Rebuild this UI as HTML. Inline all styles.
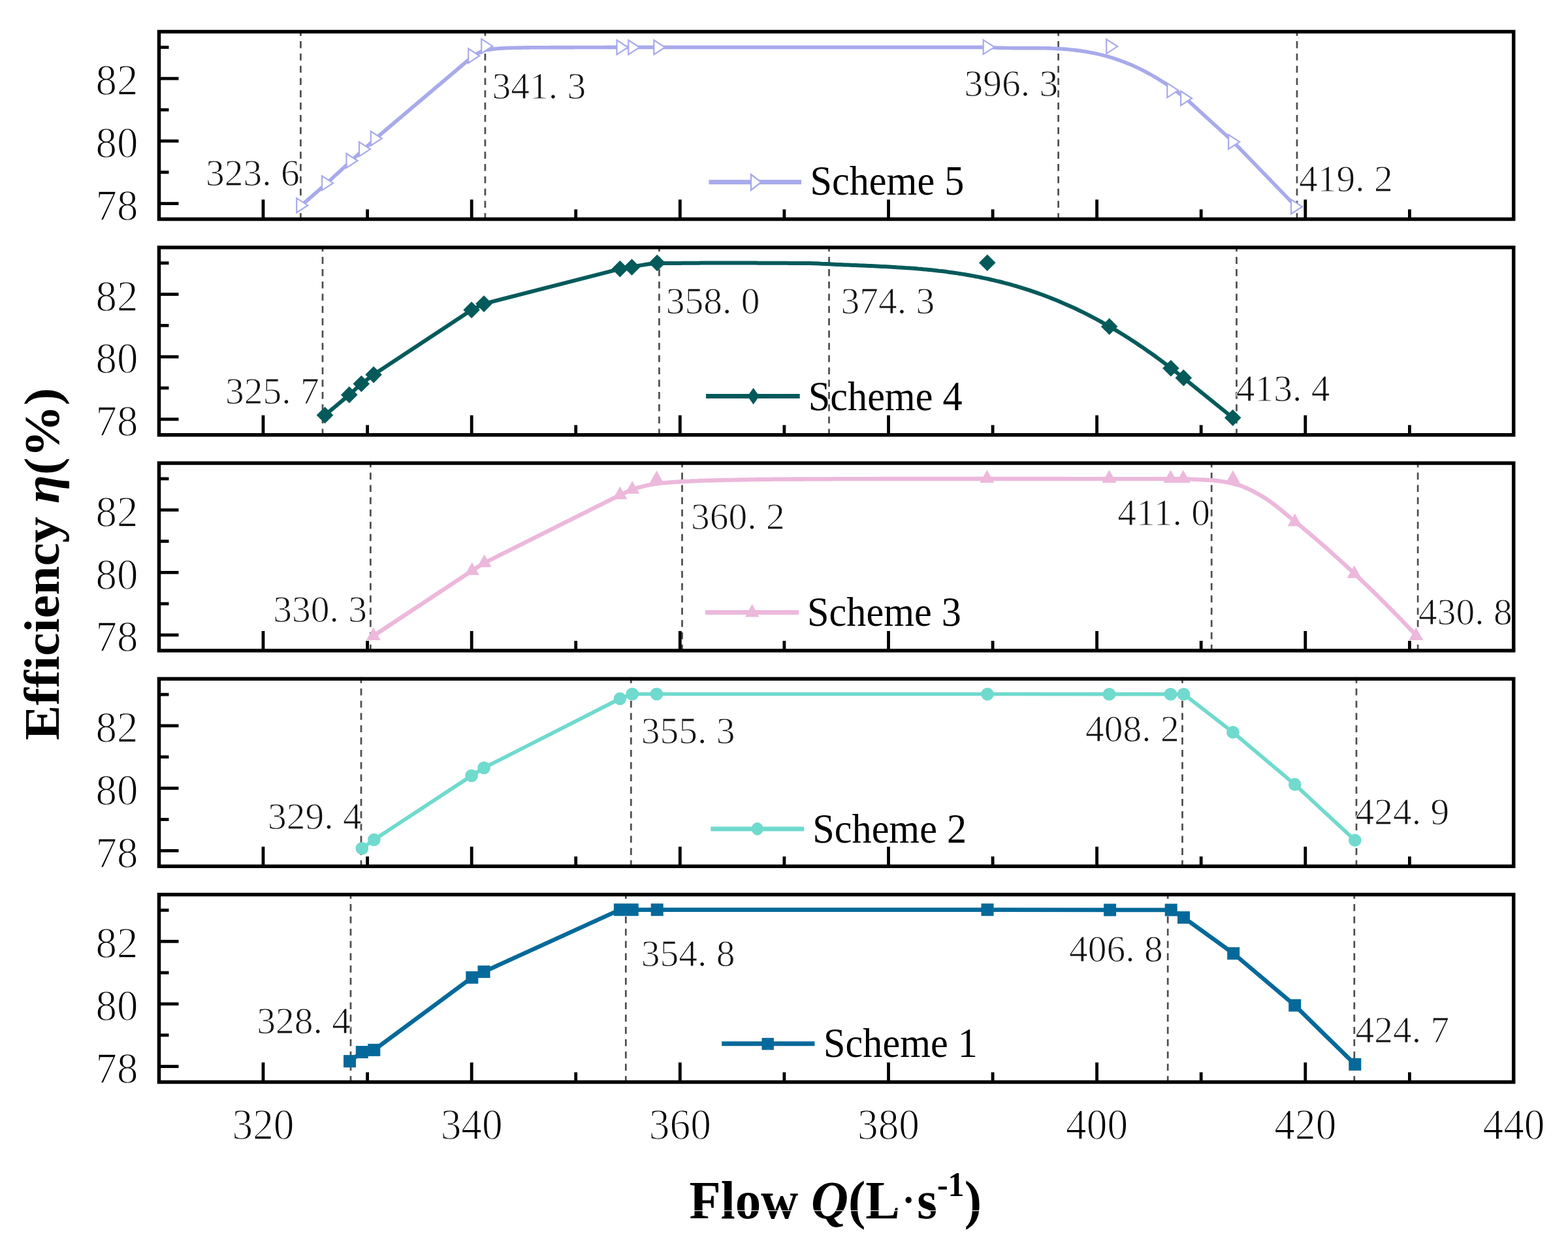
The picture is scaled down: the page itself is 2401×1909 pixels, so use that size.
<!DOCTYPE html>
<html><head><meta charset="utf-8"><title>Efficiency vs Flow</title>
<style>html,body{margin:0;padding:0;background:#fff;}svg{display:block;}
.t{font-family:"Liberation Serif","Times New Roman",serif;}
</style></head><body>
<svg width="2401" height="1909" viewBox="0 0 2401 1909">
<rect width="2401" height="1909" fill="#fff"/>
<g stroke="#4d4d4d" stroke-width="2.7" stroke-dasharray="10.6 8.2" stroke-dashoffset="1.7" fill="none">
<line x1="460.4" y1="46" x2="460.4" y2="335.5"/>
<line x1="742.9" y1="46" x2="742.9" y2="335.5"/>
<line x1="1620.6" y1="46" x2="1620.6" y2="335.5"/>
<line x1="1986" y1="46" x2="1986" y2="335.5"/>
<line x1="494" y1="376.2" x2="494" y2="665.7"/>
<line x1="1009.4" y1="376.2" x2="1009.4" y2="665.7"/>
<line x1="1269.5" y1="376.2" x2="1269.5" y2="665.7"/>
<line x1="1893.5" y1="376.2" x2="1893.5" y2="665.7"/>
<line x1="567.4" y1="706.5" x2="567.4" y2="996"/>
<line x1="1044.5" y1="706.5" x2="1044.5" y2="996"/>
<line x1="1855.2" y1="706.5" x2="1855.2" y2="996"/>
<line x1="2171.1" y1="706.5" x2="2171.1" y2="996"/>
<line x1="553" y1="1036.8" x2="553" y2="1326.2"/>
<line x1="966.3" y1="1036.8" x2="966.3" y2="1326.2"/>
<line x1="1810.5" y1="1036.8" x2="1810.5" y2="1326.2"/>
<line x1="2077" y1="1036.8" x2="2077" y2="1326.2"/>
<line x1="537" y1="1367" x2="537" y2="1656.5"/>
<line x1="958.3" y1="1367" x2="958.3" y2="1656.5"/>
<line x1="1788.2" y1="1367" x2="1788.2" y2="1656.5"/>
<line x1="2073.8" y1="1367" x2="2073.8" y2="1656.5"/>
</g>
<path d="M461.7,314.4 L500.6,280.3 L538,246 L557.5,228.3 L575.3,212 L724.7,85.5 L728.7,83.2 L732.7,81 L736.7,79.1 L740.7,77.6 L744.7,76.6 L748.7,75.9 L752.7,75.4 L756.7,74.9 L760.7,74.5 L764.7,74.1 L768.7,73.9 L772.7,73.7 L776.7,73.5 L780.7,73.4 L784.7,73.3 L788.7,73.2 L792.7,73.1 L796.7,73.1 L800.7,73 L804.7,72.9 L808.7,72.9 L812.7,72.8 L816.7,72.8 L820.7,72.8 L824.7,72.7 L828.7,72.7 L832.7,72.7 L836.7,72.7 L840.7,72.7 L844.7,72.6 L848.7,72.6 L852.7,72.6 L856.7,72.6 L860.7,72.6 L864.7,72.6 L868.7,72.6 L872.7,72.6 L876.7,72.6 L880.7,72.5 L884.7,72.5 L888.7,72.5 L892.7,72.5 L896.7,72.5 L900.7,72.5 L904.7,72.5 L908.7,72.5 L912.7,72.5 L916.7,72.5 L920.7,72.5 L924.7,72.5 L928.7,72.4 L932.7,72.4 L936.7,72.4 L940.7,72.4 L944.7,72.4 L948.7,72.4 L952.7,72.4 L956.7,72.4 L960.7,72.4 L964.7,72.4 L968.7,72.4 L972.7,72.4 L976.7,72.4 L980.7,72.4 L984.7,72.4 L988.7,72.4 L992.7,72.4 L996.7,72.4 L1000.7,72.4 L1004.7,72.4 L1008.7,72.4 L1012.7,72.4 L1016.7,72.4 L1020.7,72.4 L1024.7,72.4 L1028.7,72.4 L1032.7,72.4 L1036.7,72.4 L1040.7,72.4 L1044.7,72.4 L1048.7,72.4 L1052.7,72.4 L1056.7,72.4 L1060.7,72.4 L1064.7,72.4 L1068.7,72.4 L1072.7,72.4 L1076.7,72.4 L1080.7,72.4 L1084.7,72.4 L1088.7,72.4 L1092.7,72.4 L1096.7,72.4 L1100.7,72.4 L1104.7,72.4 L1108.7,72.4 L1112.7,72.4 L1116.7,72.4 L1120.7,72.4 L1124.7,72.4 L1128.7,72.4 L1132.7,72.4 L1136.7,72.4 L1140.7,72.4 L1144.7,72.4 L1148.7,72.4 L1152.7,72.4 L1156.7,72.4 L1160.7,72.4 L1164.7,72.4 L1168.7,72.4 L1172.7,72.4 L1176.7,72.4 L1180.7,72.4 L1184.7,72.4 L1188.7,72.4 L1192.7,72.4 L1196.7,72.4 L1200.7,72.4 L1204.7,72.4 L1208.7,72.4 L1212.7,72.4 L1216.7,72.4 L1220.7,72.4 L1224.7,72.4 L1228.7,72.4 L1232.7,72.4 L1236.7,72.4 L1240.7,72.4 L1244.7,72.4 L1248.7,72.4 L1252.7,72.4 L1256.7,72.4 L1260.7,72.4 L1264.7,72.4 L1268.7,72.4 L1272.7,72.4 L1276.7,72.4 L1280.7,72.4 L1284.7,72.4 L1288.7,72.4 L1292.7,72.4 L1296.7,72.4 L1300.7,72.4 L1304.7,72.4 L1308.7,72.4 L1312.7,72.4 L1316.7,72.4 L1320.7,72.4 L1324.7,72.4 L1328.7,72.4 L1332.7,72.4 L1336.7,72.4 L1340.7,72.4 L1344.7,72.4 L1348.7,72.4 L1352.7,72.4 L1356.7,72.4 L1360.7,72.4 L1364.7,72.4 L1368.7,72.4 L1372.7,72.4 L1376.7,72.4 L1380.7,72.4 L1384.7,72.4 L1388.7,72.4 L1392.7,72.4 L1396.7,72.4 L1400.7,72.4 L1404.7,72.4 L1408.7,72.4 L1412.7,72.4 L1416.7,72.4 L1420.7,72.4 L1424.7,72.4 L1428.7,72.4 L1432.7,72.4 L1436.7,72.4 L1440.7,72.4 L1444.7,72.4 L1448.7,72.4 L1452.7,72.4 L1456.7,72.4 L1460.7,72.4 L1464.7,72.4 L1468.7,72.4 L1472.7,72.4 L1476.7,72.4 L1480.7,72.4 L1484.7,72.4 L1488.7,72.4 L1492.7,72.4 L1496.7,72.4 L1500.7,72.4 L1504.7,72.4 L1508.7,72.4 L1512.7,72.4 L1513,72.4 L1517,72.6 L1521,72.8 L1525,73 L1529,73.2 L1533,73.3 L1537,73.4 L1541,73.5 L1545,73.5 L1549,73.5 L1553,73.6 L1557,73.6 L1561,73.6 L1565,73.6 L1569,73.6 L1573,73.6 L1577,73.6 L1581,73.6 L1585,73.6 L1589,73.6 L1593,73.7 L1597,73.7 L1601,73.8 L1605,73.9 L1609,74 L1613,74.2 L1617,74.4 L1621,74.6 L1625,74.8 L1629,75.1 L1633,75.4 L1637,75.8 L1641,76.2 L1645,76.6 L1649,77.1 L1653,77.6 L1657,78.2 L1661,78.8 L1665,79.4 L1669,80.2 L1673,80.9 L1677,81.8 L1681,82.6 L1685,83.6 L1689,84.6 L1693,85.6 L1697,86.8 L1701,87.9 L1705,89.2 L1709,90.5 L1713,91.9 L1717,93.3 L1721,94.8 L1725,96.4 L1729,98 L1733,99.7 L1737,101.5 L1741,103.3 L1745,105.2 L1749,107.2 L1753,109.3 L1757,111.4 L1761,113.6 L1765,115.9 L1769,118.2 L1773,120.6 L1777,123.1 L1781,125.6 L1785,128.2 L1789,130.9 L1793,133.7 L1797,136.5 L1801,139.4 L1805,142.4 L1809,145.4 L1813,148.5 L1815.6,150.6 L1888.6,217.2 L1984.5,316.4" fill="none" stroke="#a8aaec" stroke-width="5.6" stroke-linejoin="round" stroke-linecap="round"/>
<path d="M497.5,635.6 L534.8,604.4 L553.3,587.5 L572.1,573.6 L722.1,474.5 L741,465.1 L949.4,411.6 L953.4,410.9 L957.4,410.2 L961.4,409.5 L965.4,408.8 L969.4,408.2 L973.4,407.5 L977.4,406.8 L981.4,406.1 L985.4,405.5 L989.4,404.8 L993.4,404.3 L997.4,403.8 L1001.4,403.5 L1005.4,403.3 L1009.4,403.2 L1013.4,403.2 L1017.4,403.1 L1021.4,403.1 L1025.4,403 L1029.4,403 L1033.4,402.9 L1037.4,402.9 L1041.4,402.9 L1045.4,402.8 L1049.4,402.8 L1053.4,402.8 L1057.4,402.7 L1061.4,402.7 L1065.4,402.7 L1069.4,402.7 L1073.4,402.6 L1077.4,402.6 L1081.4,402.6 L1085.4,402.6 L1089.4,402.6 L1093.4,402.6 L1097.4,402.6 L1101.4,402.6 L1105.4,402.6 L1109.4,402.6 L1113.4,402.6 L1117.4,402.6 L1121.4,402.6 L1125.4,402.6 L1129.4,402.6 L1133.4,402.6 L1137.4,402.6 L1141.4,402.6 L1145.4,402.6 L1149.4,402.6 L1153.4,402.6 L1157.4,402.6 L1161.4,402.7 L1165.4,402.7 L1169.4,402.7 L1173.4,402.7 L1177.4,402.7 L1181.4,402.7 L1185.4,402.7 L1189.4,402.7 L1193.4,402.8 L1197.4,402.8 L1201.4,402.8 L1205.4,402.8 L1209.4,402.9 L1213.4,402.9 L1217.4,402.9 L1221.4,402.9 L1225.4,403 L1229.4,403 L1233.4,403 L1237.4,403.1 L1241.4,403.1 L1245.4,403.2 L1249.4,403.2 L1250,403.2 L1254,403.4 L1258,403.7 L1262,403.9 L1266,404.1 L1270,404.3 L1274,404.5 L1278,404.7 L1282,404.9 L1286,405.1 L1290,405.3 L1294,405.5 L1298,405.6 L1302,405.8 L1306,406 L1310,406.1 L1314,406.3 L1318,406.5 L1322,406.6 L1326,406.8 L1330,407 L1334,407.1 L1338,407.3 L1342,407.5 L1346,407.7 L1350,407.9 L1354,408.1 L1358,408.3 L1362,408.5 L1366,408.7 L1370,408.9 L1374,409.2 L1378,409.4 L1382,409.7 L1386,410 L1390,410.2 L1394,410.5 L1398,410.8 L1402,411.1 L1406,411.5 L1410,411.8 L1414,412.2 L1418,412.5 L1422,412.9 L1426,413.3 L1430,413.8 L1434,414.2 L1438,414.7 L1442,415.1 L1446,415.6 L1450,416.1 L1454,416.7 L1458,417.2 L1462,417.8 L1466,418.4 L1470,419 L1474,419.6 L1478,420.3 L1482,421 L1486,421.7 L1490,422.4 L1494,423.2 L1498,423.9 L1502,424.7 L1506,425.6 L1510,426.4 L1514,427.3 L1518,428.2 L1522,429.1 L1526,430.1 L1530,431 L1534,432 L1538,433.1 L1542,434.1 L1546,435.2 L1550,436.3 L1554,437.5 L1558,438.6 L1562,439.8 L1566,441.1 L1570,442.3 L1574,443.6 L1578,444.9 L1582,446.3 L1586,447.7 L1590,449.1 L1594,450.5 L1598,452 L1602,453.5 L1606,455 L1610,456.6 L1614,458.2 L1618,459.8 L1622,461.5 L1626,463.2 L1630,464.9 L1634,466.7 L1638,468.5 L1642,470.3 L1646,472.1 L1650,474 L1654,476 L1658,477.9 L1662,479.9 L1666,481.9 L1670,484 L1674,486.1 L1678,488.2 L1682,490.3 L1686,492.5 L1690,494.8 L1694,497 L1698,499.3 L1702,501.6 L1706,504 L1710,506.4 L1714,508.8 L1718,511.2 L1722,513.7 L1726,516.3 L1730,518.8 L1734,521.4 L1738,524 L1742,526.7 L1746,529.4 L1750,532.1 L1754,534.9 L1758,537.7 L1762,540.5 L1766,543.3 L1770,546.2 L1774,549.1 L1778,552.1 L1782,555.1 L1786,558.1 L1790,561.1 L1794,564.2 L1798,567.3 L1802,570.5 L1806,573.7 L1810,576.9 L1812.3,578.7 L1887.7,639.5" fill="none" stroke="#045a5b" stroke-width="6" stroke-linejoin="round" stroke-linecap="round"/>
<path d="M571.8,973.5 L722.8,873.7 L741.6,861.7 L949.4,757.8 L968.2,749.2 L972.2,748 L976.2,746.8 L980.2,745.7 L984.2,744.7 L988.2,743.7 L992.2,742.8 L996.2,742 L1000.2,741.3 L1004.2,740.7 L1008.2,740.2 L1012.2,739.7 L1016.2,739.3 L1020.2,738.9 L1024.2,738.6 L1028.2,738.3 L1032.2,738 L1036.2,737.7 L1040.2,737.5 L1044.2,737.2 L1048.2,737 L1052.2,736.8 L1056.2,736.7 L1060.2,736.5 L1064.2,736.3 L1068.2,736.2 L1072.2,736 L1076.2,735.9 L1080.2,735.7 L1084.2,735.6 L1088.2,735.5 L1092.2,735.4 L1096.2,735.3 L1100.2,735.2 L1104.2,735.1 L1108.2,735 L1112.2,734.9 L1116.2,734.8 L1120.2,734.8 L1124.2,734.7 L1128.2,734.6 L1132.2,734.5 L1136.2,734.4 L1140.2,734.4 L1144.2,734.3 L1148.2,734.2 L1152.2,734.1 L1156.2,734.1 L1160.2,734 L1164.2,734 L1168.2,733.9 L1172.2,733.9 L1176.2,733.8 L1180.2,733.8 L1184.2,733.7 L1188.2,733.7 L1192.2,733.7 L1196.2,733.6 L1200.2,733.6 L1204.2,733.6 L1208.2,733.6 L1212.2,733.5 L1216.2,733.5 L1220.2,733.5 L1224.2,733.5 L1228.2,733.5 L1232.2,733.4 L1236.2,733.4 L1240.2,733.4 L1244.2,733.4 L1248.2,733.4 L1252.2,733.3 L1256.2,733.3 L1260.2,733.3 L1264.2,733.3 L1268.2,733.3 L1272.2,733.3 L1276.2,733.2 L1280.2,733.2 L1284.2,733.2 L1288.2,733.2 L1292.2,733.2 L1296.2,733.2 L1300.2,733.2 L1304.2,733.2 L1308.2,733.1 L1312.2,733.1 L1316.2,733.1 L1320.2,733.1 L1324.2,733.1 L1328.2,733.1 L1332.2,733.1 L1336.2,733.1 L1340.2,733.1 L1344.2,733.1 L1348.2,733 L1352.2,733 L1356.2,733 L1360.2,733 L1364.2,733 L1368.2,733 L1372.2,733 L1376.2,733 L1380.2,733 L1384.2,733 L1388.2,733 L1392.2,733 L1396.2,733 L1400.2,733 L1404.2,733 L1408.2,733 L1412.2,733 L1416.2,733 L1420.2,733 L1424.2,733 L1428.2,733 L1432.2,733 L1436.2,733 L1440.2,733 L1444.2,733 L1448.2,733 L1452.2,733 L1456.2,733 L1460.2,733 L1464.2,733 L1468.2,733 L1472.2,733 L1476.2,733 L1480.2,733 L1484.2,733 L1488.2,733 L1492.2,733 L1496.2,733 L1500.2,733 L1504.2,733 L1508.2,733 L1512.2,733 L1516.2,733 L1520.2,733 L1524.2,733 L1528.2,733 L1532.2,733 L1536.2,733 L1540.2,733 L1544.2,733 L1548.2,733 L1552.2,733 L1556.2,733 L1560.2,733 L1564.2,733 L1568.2,733 L1572.2,733 L1576.2,733 L1580.2,733 L1584.2,733 L1588.2,733 L1592.2,733 L1596.2,733 L1600.2,733 L1604.2,733 L1608.2,733 L1612.2,733 L1616.2,733 L1620.2,733 L1624.2,733 L1628.2,733 L1632.2,733.1 L1636.2,733.1 L1640.2,733.1 L1644.2,733.1 L1648.2,733.1 L1652.2,733.1 L1656.2,733.1 L1660.2,733.1 L1664.2,733.1 L1668.2,733.1 L1672.2,733.1 L1676.2,733.1 L1680.2,733.1 L1684.2,733.1 L1688.2,733.1 L1692.2,733.1 L1696.2,733.1 L1700.2,733.1 L1704.2,733.1 L1708.2,733.1 L1712.2,733.1 L1716.2,733.1 L1720.2,733.1 L1724.2,733.1 L1728.2,733.1 L1732.2,733.1 L1736.2,733.1 L1740.2,733.1 L1744.2,733.1 L1748.2,733.1 L1752.2,733.1 L1756.2,733.1 L1760.2,733.2 L1764.2,733.2 L1768.2,733.2 L1772.2,733.2 L1776.2,733.2 L1780.2,733.2 L1784.2,733.2 L1788.2,733.2 L1792.2,733.2 L1796.2,733.2 L1800.2,733.2 L1804.2,733.2 L1808.2,733.3 L1812.2,733.3 L1816.2,733.4 L1820.2,733.5 L1824.2,733.6 L1828.2,733.8 L1832.2,734 L1836.2,734.1 L1840.2,734.3 L1844.2,734.5 L1848.2,734.8 L1852.2,735 L1856.2,735.2 L1860.2,735.6 L1864.2,736 L1868.2,736.5 L1872.2,737.1 L1876.2,737.8 L1880.2,738.6 L1884.2,739.5 L1888.2,740.4 L1892.2,741.4 L1896.2,742.4 L1900.2,743.7 L1904.2,745.3 L1908.2,747 L1912.2,748.8 L1916.2,750.8 L1920.2,752.9 L1924.2,755.1 L1928.2,757.3 L1932.2,759.5 L1936.2,762 L1940.2,764.6 L1944.2,767.3 L1948.2,770.3 L1952.2,773.3 L1956.2,776.4 L1960.2,779.6 L1964.2,782.9 L1968.2,786.2 L1972.2,789.5 L1976.2,792.9 L1980.2,796.1 L1984.2,799.4 L1988.2,802.7 L1992.2,805.9 L1996.2,809.2 L2000.2,812.6 L2004.2,815.9 L2008.2,819.3 L2012.2,822.7 L2016.2,826.2 L2020.2,829.6 L2024.2,833.1 L2028.2,836.6 L2032.2,840.2 L2036.2,843.7 L2040.2,847.3 L2044.2,850.9 L2048.2,854.5 L2052.2,858.1 L2056.2,861.8 L2060.2,865.4 L2064.2,869.1 L2068.2,872.8 L2072.2,876.6 L2076.2,880.3 L2080.2,884.1 L2084.2,887.8 L2088.2,891.7 L2092.2,895.5 L2096.2,899.3 L2100.2,903.2 L2104.2,907.1 L2108.2,911 L2112.2,915 L2116.2,918.9 L2120.2,922.9 L2124.2,926.9 L2128.2,931 L2132.2,935 L2136.2,939.1 L2140.2,943.2 L2144.2,947.3 L2148.2,951.4 L2152.2,955.6 L2156.2,959.8 L2160.2,964 L2164.2,968.2 L2168.2,972.4 L2169.2,973.5" fill="none" stroke="#ecb8dc" stroke-width="6.3" stroke-linejoin="round" stroke-linecap="round"/>
<path d="M554.3,1298.8 L572.8,1285.5 L722.1,1187.5 L741,1175.5 L949.4,1069.6 L968.2,1062.5 L1005.5,1062.5 L1512,1062.5 L1698.5,1062.6 L1792.5,1062.6 L1812.5,1062.6 L1887.9,1121 L1982.7,1200.9 L2074.8,1286.4" fill="none" stroke="#6fdacd" stroke-width="5.7" stroke-linejoin="round" stroke-linecap="round"/>
<path d="M535.5,1624.6 L554.3,1610.6 L572.8,1607.4 L722.8,1496.4 L741,1487.6 L949.4,1392.7 L968.2,1392.7 L1006.2,1392.7 L1512,1392.7 L1699.6,1393 L1793.2,1393 L1812.5,1404.6 L1888.7,1459.6 L1982.7,1539.1 L2074.8,1629.4" fill="none" stroke="#04699a" stroke-width="6.4" stroke-linejoin="round" stroke-linecap="round"/>
<g>
<path d="M454.2,303.4 L471.2,314.4 L454.2,325.4Z" fill="#fff" stroke="#a8aaec" stroke-width="2.2"/>
<path d="M493.1,269.3 L510.1,280.3 L493.1,291.3Z" fill="#fff" stroke="#a8aaec" stroke-width="2.2"/>
<path d="M530.5,235 L547.5,246 L530.5,257Z" fill="#fff" stroke="#a8aaec" stroke-width="2.2"/>
<path d="M550,217.3 L567,228.3 L550,239.3Z" fill="#fff" stroke="#a8aaec" stroke-width="2.2"/>
<path d="M567.8,201 L584.8,212 L567.8,223Z" fill="#fff" stroke="#a8aaec" stroke-width="2.2"/>
<path d="M717.2,74.5 L734.2,85.5 L717.2,96.5Z" fill="#fff" stroke="#a8aaec" stroke-width="2.2"/>
<path d="M737.2,59.7 L754.2,70.7 L737.2,81.7Z" fill="#fff" stroke="#a8aaec" stroke-width="2.2"/>
<path d="M944.5,61.5 L961.5,72.5 L944.5,83.5Z" fill="#fff" stroke="#a8aaec" stroke-width="2.2"/>
<path d="M962.3,61.5 L979.3,72.5 L962.3,83.5Z" fill="#fff" stroke="#a8aaec" stroke-width="2.2"/>
<path d="M1001.3,61.5 L1018.3,72.5 L1001.3,83.5Z" fill="#fff" stroke="#a8aaec" stroke-width="2.2"/>
<path d="M1505.7,61.1 L1522.7,72.1 L1505.7,83.1Z" fill="#fff" stroke="#a8aaec" stroke-width="2.2"/>
<path d="M1694.2,60.1 L1711.2,71.1 L1694.2,82.1Z" fill="#fff" stroke="#a8aaec" stroke-width="2.2"/>
<path d="M1787.3,127.3 L1804.3,138.3 L1787.3,149.3Z" fill="#fff" stroke="#a8aaec" stroke-width="2.2"/>
<path d="M1808.1,139.5 L1825.1,150.5 L1808.1,161.5Z" fill="#fff" stroke="#a8aaec" stroke-width="2.2"/>
<path d="M1881.1,206.2 L1898.1,217.2 L1881.1,228.2Z" fill="#fff" stroke="#a8aaec" stroke-width="2.2"/>
<path d="M1977,305.4 L1994,316.4 L1977,327.4Z" fill="#fff" stroke="#a8aaec" stroke-width="2.2"/>
</g>
<g>
<path d="M497.5,622.8 L510.3,635.6 L497.5,648.4 L484.7,635.6Z" fill="#045a5b"/>
<path d="M534.8,591.6 L547.6,604.4 L534.8,617.2 L522,604.4Z" fill="#045a5b"/>
<path d="M553.3,574.7 L566.1,587.5 L553.3,600.3 L540.5,587.5Z" fill="#045a5b"/>
<path d="M572.1,560.8 L584.9,573.6 L572.1,586.4 L559.3,573.6Z" fill="#045a5b"/>
<path d="M722.1,461.7 L734.9,474.5 L722.1,487.3 L709.3,474.5Z" fill="#045a5b"/>
<path d="M741,452.3 L753.8,465.1 L741,477.9 L728.2,465.1Z" fill="#045a5b"/>
<path d="M949.4,398.8 L962.2,411.6 L949.4,424.4 L936.6,411.6Z" fill="#045a5b"/>
<path d="M967.5,396.2 L980.3,409 L967.5,421.8 L954.7,409Z" fill="#045a5b"/>
<path d="M1006.2,389.7 L1019,402.5 L1006.2,415.3 L993.4,402.5Z" fill="#045a5b"/>
<path d="M1511.8,389.5 L1524.6,402.3 L1511.8,415.1 L1499,402.3Z" fill="#045a5b"/>
<path d="M1698.7,487.1 L1711.5,499.9 L1698.7,512.7 L1685.9,499.9Z" fill="#045a5b"/>
<path d="M1792.9,551 L1805.7,563.8 L1792.9,576.6 L1780.1,563.8Z" fill="#045a5b"/>
<path d="M1812.3,565.6 L1825.1,578.4 L1812.3,591.2 L1799.5,578.4Z" fill="#045a5b"/>
<path d="M1887.7,626.7 L1900.5,639.5 L1887.7,652.3 L1874.9,639.5Z" fill="#045a5b"/>
</g>
<g>
<path d="M571.8,960.5 L582.8,980 L560.8,980Z" fill="#ecb8dc"/>
<path d="M722.8,860.7 L733.8,880.2 L711.8,880.2Z" fill="#ecb8dc"/>
<path d="M741.6,848.7 L752.6,868.2 L730.6,868.2Z" fill="#ecb8dc"/>
<path d="M949.4,744.8 L960.4,764.3 L938.4,764.3Z" fill="#ecb8dc"/>
<path d="M968.2,736.2 L979.2,755.7 L957.2,755.7Z" fill="#ecb8dc"/>
<path d="M1005.5,720.5 L1016.5,740 L994.5,740Z" fill="#ecb8dc"/>
<path d="M1511.4,719.5 L1522.4,739 L1500.4,739Z" fill="#ecb8dc"/>
<path d="M1698.5,719.5 L1709.5,739 L1687.5,739Z" fill="#ecb8dc"/>
<path d="M1792.5,719.5 L1803.5,739 L1781.5,739Z" fill="#ecb8dc"/>
<path d="M1811.8,719.5 L1822.8,739 L1800.8,739Z" fill="#ecb8dc"/>
<path d="M1887.9,720 L1898.9,739.5 L1876.9,739.5Z" fill="#ecb8dc"/>
<path d="M1982.7,786 L1993.7,805.5 L1971.7,805.5Z" fill="#ecb8dc"/>
<path d="M2073.7,865.5 L2084.7,885 L2062.7,885Z" fill="#ecb8dc"/>
<path d="M2168.3,960.5 L2179.3,980 L2157.3,980Z" fill="#ecb8dc"/>
</g>
<g>
<circle cx="554.3" cy="1298.8" r="9.8" fill="#6fdacd"/>
<circle cx="572.8" cy="1285.5" r="9.8" fill="#6fdacd"/>
<circle cx="722.1" cy="1187.5" r="9.8" fill="#6fdacd"/>
<circle cx="741" cy="1175.5" r="9.8" fill="#6fdacd"/>
<circle cx="949.4" cy="1069.6" r="9.8" fill="#6fdacd"/>
<circle cx="968.2" cy="1062.5" r="9.8" fill="#6fdacd"/>
<circle cx="1005.5" cy="1062.5" r="9.8" fill="#6fdacd"/>
<circle cx="1512" cy="1062.6" r="9.8" fill="#6fdacd"/>
<circle cx="1698.5" cy="1062.7" r="9.8" fill="#6fdacd"/>
<circle cx="1792.5" cy="1062.7" r="9.8" fill="#6fdacd"/>
<circle cx="1812.5" cy="1062.7" r="9.8" fill="#6fdacd"/>
<circle cx="1887.9" cy="1121" r="9.8" fill="#6fdacd"/>
<circle cx="1982.7" cy="1200.9" r="9.8" fill="#6fdacd"/>
<circle cx="2074.8" cy="1286.4" r="9.8" fill="#6fdacd"/>
</g>
<g>
<rect x="526" y="1615.1" width="19" height="19" fill="#04699a"/>
<rect x="544.8" y="1601.1" width="19" height="19" fill="#04699a"/>
<rect x="563.3" y="1597.9" width="19" height="19" fill="#04699a"/>
<rect x="713.3" y="1486.9" width="19" height="19" fill="#04699a"/>
<rect x="731.5" y="1478.1" width="19" height="19" fill="#04699a"/>
<rect x="939.9" y="1383.2" width="19" height="19" fill="#04699a"/>
<rect x="958.7" y="1383.2" width="19" height="19" fill="#04699a"/>
<rect x="996.7" y="1383.2" width="19" height="19" fill="#04699a"/>
<rect x="1502.5" y="1383.2" width="19" height="19" fill="#04699a"/>
<rect x="1690.1" y="1383.5" width="19" height="19" fill="#04699a"/>
<rect x="1783.7" y="1383.5" width="19" height="19" fill="#04699a"/>
<rect x="1803" y="1395.1" width="19" height="19" fill="#04699a"/>
<rect x="1879.2" y="1450.1" width="19" height="19" fill="#04699a"/>
<rect x="1973.2" y="1529.6" width="19" height="19" fill="#04699a"/>
<rect x="2065.3" y="1619.9" width="19" height="19" fill="#04699a"/>
</g>
<line x1="1085.5" y1="278.7" x2="1227" y2="278.7" stroke="#a8aaec" stroke-width="7"/>
<path d="M1150,267 L1165.5,279 L1150,291Z" fill="#fff" stroke="#a8aaec" stroke-width="2.4"/>
<text class="t" transform="translate(1240.5,298) scale(0.95,1)" font-size="63.4">Scheme 5</text>
<line x1="1081" y1="606.6" x2="1224.7" y2="606.6" stroke="#045a5b" stroke-width="7"/>
<path d="M1153.6,593.8 L1162.6,606.5 L1153.6,619.2 L1144.6,606.5Z" fill="#045a5b"/>
<text class="t" transform="translate(1237.8,627.5) scale(0.95,1)" font-size="63.4">Scheme 4</text>
<line x1="1080" y1="937.5" x2="1223" y2="937.5" stroke="#ecb8dc" stroke-width="7"/>
<path d="M1151.7,924.8 L1162.3,944.6 L1141.1,944.6Z" fill="#ecb8dc"/>
<text class="t" transform="translate(1236.1,958.1) scale(0.95,1)" font-size="63.4">Scheme 3</text>
<line x1="1088.3" y1="1269" x2="1231.2" y2="1269" stroke="#6fdacd" stroke-width="7"/>
<ellipse cx="1159.7" cy="1268.8" rx="8.9" ry="9.9" fill="#6fdacd"/>
<text class="t" transform="translate(1244.3,1289.7) scale(0.95,1)" font-size="63.4">Scheme 2</text>
<line x1="1105.2" y1="1597.8" x2="1247.4" y2="1597.8" stroke="#04699a" stroke-width="7"/>
<rect x="1166.5" y="1588.9" width="18.4" height="18.4" fill="#04699a"/>
<text class="t" transform="translate(1261.1,1618) scale(0.95,1)" font-size="63.4">Scheme 1</text>
<g fill="none" stroke="#000" stroke-width="5.5" stroke-linecap="square">
<rect x="243.5" y="48.5" width="2074.2" height="287"/>
<rect x="243.5" y="378.8" width="2074.2" height="287"/>
<rect x="243.5" y="709" width="2074.2" height="287"/>
<rect x="243.5" y="1039.2" width="2074.2" height="287"/>
<rect x="243.5" y="1369.5" width="2074.2" height="287"/>
</g>
<g stroke="#000" stroke-width="4.8">
<line x1="243.5" y1="311.6" x2="273.5" y2="311.6"/>
<line x1="243.5" y1="263.7" x2="258.5" y2="263.7"/>
<line x1="243.5" y1="215.9" x2="273.5" y2="215.9"/>
<line x1="243.5" y1="168.1" x2="258.5" y2="168.1"/>
<line x1="243.5" y1="120.2" x2="273.5" y2="120.2"/>
<line x1="243.5" y1="72.4" x2="258.5" y2="72.4"/>
<line x1="403" y1="335.5" x2="403" y2="305.5"/>
<line x1="562.6" y1="335.5" x2="562.6" y2="320.5"/>
<line x1="722.2" y1="335.5" x2="722.2" y2="305.5"/>
<line x1="881.7" y1="335.5" x2="881.7" y2="320.5"/>
<line x1="1041.3" y1="335.5" x2="1041.3" y2="305.5"/>
<line x1="1200.9" y1="335.5" x2="1200.9" y2="320.5"/>
<line x1="1360.5" y1="335.5" x2="1360.5" y2="305.5"/>
<line x1="1520.1" y1="335.5" x2="1520.1" y2="320.5"/>
<line x1="1679.6" y1="335.5" x2="1679.6" y2="305.5"/>
<line x1="1839.2" y1="335.5" x2="1839.2" y2="320.5"/>
<line x1="1998.8" y1="335.5" x2="1998.8" y2="305.5"/>
<line x1="2158.4" y1="335.5" x2="2158.4" y2="320.5"/>
<line x1="243.5" y1="641.8" x2="273.5" y2="641.8"/>
<line x1="243.5" y1="594" x2="258.5" y2="594"/>
<line x1="243.5" y1="546.2" x2="273.5" y2="546.2"/>
<line x1="243.5" y1="498.3" x2="258.5" y2="498.3"/>
<line x1="243.5" y1="450.5" x2="273.5" y2="450.5"/>
<line x1="243.5" y1="402.7" x2="258.5" y2="402.7"/>
<line x1="403" y1="665.7" x2="403" y2="635.7"/>
<line x1="562.6" y1="665.7" x2="562.6" y2="650.7"/>
<line x1="722.2" y1="665.7" x2="722.2" y2="635.7"/>
<line x1="881.7" y1="665.7" x2="881.7" y2="650.7"/>
<line x1="1041.3" y1="665.7" x2="1041.3" y2="635.7"/>
<line x1="1200.9" y1="665.7" x2="1200.9" y2="650.7"/>
<line x1="1360.5" y1="665.7" x2="1360.5" y2="635.7"/>
<line x1="1520.1" y1="665.7" x2="1520.1" y2="650.7"/>
<line x1="1679.6" y1="665.7" x2="1679.6" y2="635.7"/>
<line x1="1839.2" y1="665.7" x2="1839.2" y2="650.7"/>
<line x1="1998.8" y1="665.7" x2="1998.8" y2="635.7"/>
<line x1="2158.4" y1="665.7" x2="2158.4" y2="650.7"/>
<line x1="243.5" y1="972.1" x2="273.5" y2="972.1"/>
<line x1="243.5" y1="924.2" x2="258.5" y2="924.2"/>
<line x1="243.5" y1="876.4" x2="273.5" y2="876.4"/>
<line x1="243.5" y1="828.6" x2="258.5" y2="828.6"/>
<line x1="243.5" y1="780.7" x2="273.5" y2="780.7"/>
<line x1="243.5" y1="732.9" x2="258.5" y2="732.9"/>
<line x1="403" y1="996" x2="403" y2="966"/>
<line x1="562.6" y1="996" x2="562.6" y2="981"/>
<line x1="722.2" y1="996" x2="722.2" y2="966"/>
<line x1="881.7" y1="996" x2="881.7" y2="981"/>
<line x1="1041.3" y1="996" x2="1041.3" y2="966"/>
<line x1="1200.9" y1="996" x2="1200.9" y2="981"/>
<line x1="1360.5" y1="996" x2="1360.5" y2="966"/>
<line x1="1520.1" y1="996" x2="1520.1" y2="981"/>
<line x1="1679.6" y1="996" x2="1679.6" y2="966"/>
<line x1="1839.2" y1="996" x2="1839.2" y2="981"/>
<line x1="1998.8" y1="996" x2="1998.8" y2="966"/>
<line x1="2158.4" y1="996" x2="2158.4" y2="981"/>
<line x1="243.5" y1="1302.3" x2="273.5" y2="1302.3"/>
<line x1="243.5" y1="1254.5" x2="258.5" y2="1254.5"/>
<line x1="243.5" y1="1206.7" x2="273.5" y2="1206.7"/>
<line x1="243.5" y1="1158.8" x2="258.5" y2="1158.8"/>
<line x1="243.5" y1="1111" x2="273.5" y2="1111"/>
<line x1="243.5" y1="1063.2" x2="258.5" y2="1063.2"/>
<line x1="403" y1="1326.2" x2="403" y2="1296.2"/>
<line x1="562.6" y1="1326.2" x2="562.6" y2="1311.2"/>
<line x1="722.2" y1="1326.2" x2="722.2" y2="1296.2"/>
<line x1="881.7" y1="1326.2" x2="881.7" y2="1311.2"/>
<line x1="1041.3" y1="1326.2" x2="1041.3" y2="1296.2"/>
<line x1="1200.9" y1="1326.2" x2="1200.9" y2="1311.2"/>
<line x1="1360.5" y1="1326.2" x2="1360.5" y2="1296.2"/>
<line x1="1520.1" y1="1326.2" x2="1520.1" y2="1311.2"/>
<line x1="1679.6" y1="1326.2" x2="1679.6" y2="1296.2"/>
<line x1="1839.2" y1="1326.2" x2="1839.2" y2="1311.2"/>
<line x1="1998.8" y1="1326.2" x2="1998.8" y2="1296.2"/>
<line x1="2158.4" y1="1326.2" x2="2158.4" y2="1311.2"/>
<line x1="243.5" y1="1632.6" x2="273.5" y2="1632.6"/>
<line x1="243.5" y1="1584.7" x2="258.5" y2="1584.7"/>
<line x1="243.5" y1="1536.9" x2="273.5" y2="1536.9"/>
<line x1="243.5" y1="1489.1" x2="258.5" y2="1489.1"/>
<line x1="243.5" y1="1441.2" x2="273.5" y2="1441.2"/>
<line x1="243.5" y1="1393.4" x2="258.5" y2="1393.4"/>
<line x1="403" y1="1656.5" x2="403" y2="1626.5"/>
<line x1="562.6" y1="1656.5" x2="562.6" y2="1641.5"/>
<line x1="722.2" y1="1656.5" x2="722.2" y2="1626.5"/>
<line x1="881.7" y1="1656.5" x2="881.7" y2="1641.5"/>
<line x1="1041.3" y1="1656.5" x2="1041.3" y2="1626.5"/>
<line x1="1200.9" y1="1656.5" x2="1200.9" y2="1641.5"/>
<line x1="1360.5" y1="1656.5" x2="1360.5" y2="1626.5"/>
<line x1="1520.1" y1="1656.5" x2="1520.1" y2="1641.5"/>
<line x1="1679.6" y1="1656.5" x2="1679.6" y2="1626.5"/>
<line x1="1839.2" y1="1656.5" x2="1839.2" y2="1641.5"/>
<line x1="1998.8" y1="1656.5" x2="1998.8" y2="1626.5"/>
<line x1="2158.4" y1="1656.5" x2="2158.4" y2="1641.5"/>
</g>
<g class="t" font-size="68" text-anchor="end" stroke="#fff" stroke-width="1.5">
<text transform="translate(211.5,336.8) scale(0.955,1)">78</text>
<text transform="translate(211.5,241.1) scale(0.955,1)">80</text>
<text transform="translate(211.5,145.4) scale(0.955,1)">82</text>
<text transform="translate(211.5,667) scale(0.955,1)">78</text>
<text transform="translate(211.5,571.4) scale(0.955,1)">80</text>
<text transform="translate(211.5,475.7) scale(0.955,1)">82</text>
<text transform="translate(211.5,997.3) scale(0.955,1)">78</text>
<text transform="translate(211.5,901.6) scale(0.955,1)">80</text>
<text transform="translate(211.5,805.9) scale(0.955,1)">82</text>
<text transform="translate(211.5,1327.5) scale(0.955,1)">78</text>
<text transform="translate(211.5,1231.9) scale(0.955,1)">80</text>
<text transform="translate(211.5,1136.2) scale(0.955,1)">82</text>
<text transform="translate(211.5,1657.8) scale(0.955,1)">78</text>
<text transform="translate(211.5,1562.1) scale(0.955,1)">80</text>
<text transform="translate(211.5,1466.4) scale(0.955,1)">82</text>
</g>
<g class="t" font-size="67" text-anchor="middle" stroke="#fff" stroke-width="1.5">
<text transform="translate(403,1744) scale(0.946,1)">320</text>
<text transform="translate(722.2,1744) scale(0.946,1)">340</text>
<text transform="translate(1041.3,1744) scale(0.946,1)">360</text>
<text transform="translate(1360.5,1744) scale(0.946,1)">380</text>
<text transform="translate(1679.6,1744) scale(0.946,1)">400</text>
<text transform="translate(1998.8,1744) scale(0.946,1)">420</text>
<text transform="translate(2318,1744) scale(0.946,1)">440</text>
</g>
<g class="t" font-size="57.5" fill="#111" stroke="#fff" stroke-width="1.1" xml:space="preserve">
<text x="315" y="283.9">323. 6</text>
<text x="753.5" y="150.9">341. 3</text>
<text x="1476.6" y="147.1">396. 3</text>
<text x="1989" y="293">419. 2</text>
<text x="345" y="618.4">325. 7</text>
<text x="1019.8" y="479.7">358. 0</text>
<text x="1287.6" y="479.7">374. 3</text>
<text x="1892.8" y="613.5">413. 4</text>
<text x="418.2" y="951.6">330. 3</text>
<text x="1058" y="810.4">360. 2</text>
<text x="1711.3" y="804">411. 0</text>
<text x="2172" y="956.4">430. 8</text>
<text x="410" y="1268.6">329. 4</text>
<text x="981.8" y="1138.1">355. 3</text>
<text x="1661.9" y="1135.1">408. 2</text>
<text x="2075.4" y="1262.2">424. 9</text>
<text x="393.2" y="1581.8">328. 4</text>
<text x="981.8" y="1478.5">354. 8</text>
<text x="1637" y="1471.5">406. 8</text>
<text x="2075.4" y="1596">424. 7</text>
</g>
<g transform="translate(1057,1865) scale(0.963,1)"><text class="t" x="-1.5" y="0" font-size="82" font-weight="bold">Flow <tspan font-style="italic">Q</tspan>(L<tspan font-weight="normal">·</tspan>s<tspan font-size="52" dy="-34">-1</tspan><tspan dy="34">)</tspan></text></g>
<text class="t" transform="translate(90,1133) rotate(-90) scale(1,0.96)" x="0" y="0" font-size="80" font-weight="bold">Efficiency <tspan font-style="italic">η</tspan>(%)</text>
<rect x="1040" y="1852.9" width="480" height="1.1" fill="#fff"/>
</svg>
</body></html>
